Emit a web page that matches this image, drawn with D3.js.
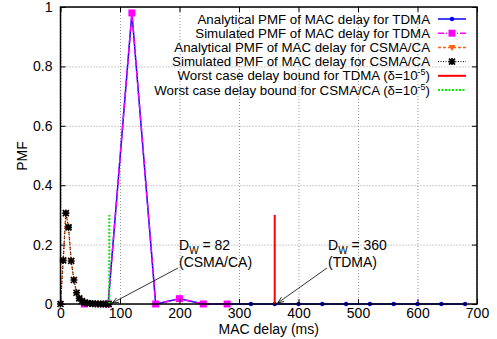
<!DOCTYPE html>
<html>
<head>
<meta charset="utf-8">
<script src="https://cdn.jsdelivr.net/npm/d3@7"></script>
<style>
  body { margin: 0; background: #fff; }
  svg text { font-family: "Liberation Sans", Arial, sans-serif; fill: #000; }
</style>
</head>
<body>
<svg id="chart" width="497" height="339"></svg>
<script>
// ----- data -----
const tdmaX = [40, 80, 120, 160, 200, 240, 280, 320, 360, 400, 440, 480, 520, 560, 600, 640, 680];
const tdmaAnalytical = [0, 0, 0.98, 0, 0.018, 0, 0, 0, 0, 0, 0, 0, 0, 0, 0, 0, 0];
const tdmaSimX = [40, 80, 120, 160, 200, 240, 280];
const tdmaSimulated = [0, 0, 0.98, 0, 0.018, 0, 0];
const csmaX = [0, 4.5, 9, 13.5, 18, 22.5, 27, 31.5, 36, 40.5, 45, 49.5, 54, 58.5, 63, 67.5, 72, 76.5, 81];
const csmaAnalytical = [0, 0.147, 0.306, 0.258, 0.145, 0.081, 0.038, 0.019, 0.01, 0.005, 0.003, 0.002, 0.001, 0.001, 0, 0, 0, 0, 0];
const csmaSimulated = [0, 0.147, 0.306, 0.258, 0.145, 0.081, 0.038, 0.019, 0.01, 0.005, 0.003, 0.002, 0.001, 0.001, 0, 0, 0, 0, 0];
const boundTdma = 360, boundCsma = 82, boundHeight = 0.3;
const xTicks = [0, 100, 200, 300, 400, 500, 600, 700];
const yTicks = [0, 0.2, 0.4, 0.6, 0.8, 1];
const legendLabels = [
  "Analytical PMF of MAC delay for TDMA",
  "Simulated PMF of MAC delay for TDMA",
  "Analytical PMF of MAC delay for CSMA/CA",
  "Simulated PMF of MAC delay for CSMA/CA",
  "Worst case delay bound for TDMA (\u03b4=10",
  "Worst case delay bound for CSMA/CA (\u03b4=10"
];

// ----- setup -----
const svg = d3.select("#chart");
const margin = {top: 7, left: 60.5, right: 20, bottom: 35};
const plotW = 477 - margin.left;
const plotH = 304 - margin.top;

const x = d3.scaleLinear().domain([0, 700]).range([0, plotW]);
const y = d3.scaleLinear().domain([0, 1]).range([plotH, 0]);

const plot = svg.append("g").attr("transform", `translate(${margin.left},${margin.top})`);

// grid
plot.append("g")
  .call(d3.axisBottom(x).tickValues(xTicks).tickSize(-plotH).tickFormat(""))
  .attr("transform", `translate(0,${plotH})`)
  .call(g => g.select(".domain").remove())
  .selectAll("line").attr("stroke", "#999").attr("stroke-dasharray", "1,2");
plot.append("g")
  .call(d3.axisLeft(y).tickValues(yTicks).tickSize(-plotW).tickFormat(""))
  .call(g => g.select(".domain").remove())
  .selectAll("line").attr("stroke", "#999").attr("stroke-dasharray", "1,2");

// ----- series -----
function series(xs, ys) { return xs.map((d, i) => ({x: d, y: ys[i]})); }
const line = d3.line().x(d => x(d.x)).y(d => y(d.y));

const sets = [
  {data: series(tdmaX, tdmaAnalytical), color: "#0000ff", dash: null, width: 1.5, marker: "dot"},
  {data: series(tdmaSimX, tdmaSimulated), color: "#ff00ff", dash: "6,2,1,2", width: 1.5, marker: "square"},
  {data: series(csmaX, csmaAnalytical), color: "#ff6010", dash: "3,2", width: 1.5, marker: "tri"},
  {data: series(csmaX, csmaSimulated), color: "#000000", dash: "1,1.5", width: 1, marker: "star"}
];

function drawMarker(g, kind, color) {
  if (kind === "dot") {
    g.append("circle").attr("r", 2.2).attr("fill", color);
  } else if (kind === "square") {
    g.append("rect").attr("x", -3.5).attr("y", -3.5).attr("width", 7).attr("height", 7).attr("fill", color);
  } else if (kind === "tri") {
    g.append("path").attr("d", "M-3.5,-2.5L3.5,-2.5L0,3.5Z").attr("fill", color);
  } else if (kind === "star") {
    g.append("path").attr("d", "M-3,-3L3,3M-3,3L3,-3M0,-3.5L0,3.5M-3.5,0L3.5,0")
      .attr("stroke", color).attr("stroke-width", 1.6);
  }
}

sets.forEach(s => {
  plot.append("path").datum(s.data)
    .attr("fill", "none")
    .attr("stroke", s.color)
    .attr("stroke-width", s.width)
    .attr("stroke-dasharray", s.dash)
    .attr("d", line);
  plot.selectAll(null).data(s.data).enter().append("g")
    .attr("transform", d => `translate(${x(d.x)},${y(d.y)})`)
    .each(function() { drawMarker(d3.select(this), s.marker, s.color); });
});

// worst case bounds
plot.append("line")
  .attr("x1", x(boundTdma)).attr("x2", x(boundTdma))
  .attr("y1", y(0)).attr("y2", y(boundHeight))
  .attr("stroke", "#ff0000").attr("stroke-width", 2);
plot.append("line")
  .attr("x1", x(boundCsma)).attr("x2", x(boundCsma))
  .attr("y1", y(0)).attr("y2", y(boundHeight))
  .attr("stroke", "#00ee00").attr("stroke-width", 2).attr("stroke-dasharray", "2,1.5");

// ----- frame & axes -----
plot.append("rect").attr("width", plotW).attr("height", plotH)
  .attr("fill", "none").attr("stroke", "#000").attr("stroke-width", 1.5);

const xAxis = plot.append("g").attr("transform", `translate(0,${plotH})`)
  .call(d3.axisBottom(x).tickValues(xTicks).tickSizeInner(-5).tickSizeOuter(0).tickPadding(4).tickFormat(d3.format("d")));
const xAxisTop = plot.append("g")
  .call(d3.axisTop(x).tickValues(xTicks).tickSizeInner(-5).tickSizeOuter(0).tickFormat(""));
const yAxis = plot.append("g")
  .call(d3.axisLeft(y).tickValues(yTicks).tickSizeInner(-5).tickSizeOuter(0).tickPadding(8).tickFormat(d => d === 0 || d === 1 ? d : d.toFixed(1)));
const yAxisRight = plot.append("g").attr("transform", `translate(${plotW},0)`)
  .call(d3.axisRight(y).tickValues(yTicks).tickSizeInner(-5).tickSizeOuter(0).tickFormat(""));
[xAxis, xAxisTop, yAxis, yAxisRight].forEach(a => {
  a.select(".domain").remove();
  a.selectAll("line").attr("stroke", "#000");
  a.selectAll("text").attr("font-size", 14).attr("font-family", "Liberation Sans, Arial, sans-serif");
});

// axis labels
svg.append("text").attr("x", margin.left + plotW / 2).attr("y", 334)
  .attr("text-anchor", "middle").attr("font-size", 14).text("MAC delay (ms)");
svg.append("text").attr("transform", "translate(27,156) rotate(-90)")
  .attr("text-anchor", "middle").attr("font-size", 14).text("PMF");

// ----- legend -----
const legend = svg.append("g");
legendLabels.forEach((lab, i) => {
  const ly = 19 + i * 14.2;
  const t = legend.append("text").attr("x", 430).attr("y", ly + 4.5)
    .attr("text-anchor", "end").attr("font-size", 13.3);
  if (i >= 4) {
    t.append("tspan").text(lab);
    t.append("tspan").attr("dy", -5).attr("font-size", 9).text("-5");
    t.append("tspan").attr("dy", 5).text(")");
  } else {
    t.text(lab);
  }
  const sample = legend.append("g");
  if (i < 4) {
    const s = sets[i];
    sample.append("line").attr("x1", 438).attr("x2", 466).attr("y1", ly).attr("y2", ly)
      .attr("stroke", s.color).attr("stroke-width", s.width).attr("stroke-dasharray", s.dash);
    drawMarker(sample.append("g").attr("transform", `translate(452,${ly})`), s.marker, s.color);
  } else if (i === 4) {
    sample.append("line").attr("x1", 438).attr("x2", 466).attr("y1", ly).attr("y2", ly)
      .attr("stroke", "#ff0000").attr("stroke-width", 2);
  } else {
    sample.append("line").attr("x1", 438).attr("x2", 466).attr("y1", ly).attr("y2", ly)
      .attr("stroke", "#00ee00").attr("stroke-width", 2).attr("stroke-dasharray", "2,1.5");
  }
});

// ----- annotations -----
svg.append("defs").append("marker")
  .attr("id", "arrow").attr("viewBox", "0 0 10 10").attr("refX", 10).attr("refY", 5)
  .attr("markerWidth", 8).attr("markerHeight", 8).attr("orient", "auto")
  .append("path").attr("d", "M0,1L10,5L0,9").attr("fill", "none").attr("stroke", "#000").attr("stroke-width", 1.2);

function annotate(label, sub, tx, ty, target) {
  const t = svg.append("text").attr("x", tx).attr("y", ty).attr("font-size", 14);
  t.append("tspan").text("D");
  t.append("tspan").attr("dy", 4).attr("font-size", 10).text("W");
  t.append("tspan").attr("dy", -4).text(" = " + label);
  svg.append("text").attr("x", tx).attr("y", ty + 17).attr("font-size", 14).text(sub);
  svg.append("line")
    .attr("x1", tx - 1).attr("y1", ty + 18)
    .attr("x2", margin.left + x(target) + 3).attr("y2", margin.top + y(0) - 1)
    .attr("stroke", "#000").attr("stroke-width", 0.8).attr("marker-end", "url(#arrow)");
}
annotate("82", "(CSMA/CA)", 179, 250, boundCsma);
annotate("360", "(TDMA)", 328, 250, boundTdma);
</script>
</body>
</html>
